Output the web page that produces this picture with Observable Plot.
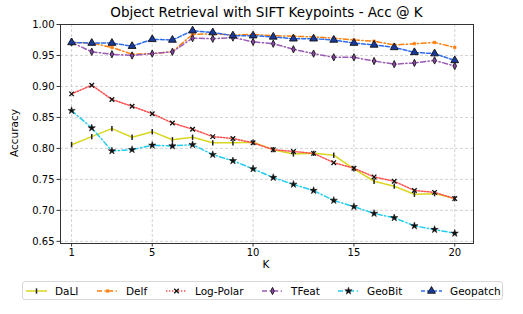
<!DOCTYPE html>
<html><head><meta charset="utf-8">
<script src="https://cdn.jsdelivr.net/npm/d3@7"></script>
<script src="https://cdn.jsdelivr.net/npm/@observablehq/plot@0.6"></script>
<style>
body{margin:0;background:#fff;font-family:"DejaVu Sans",sans-serif;}
#wrap{position:relative;width:523px;height:314px;overflow:hidden;}
#wrap svg.plot{position:absolute;left:0;top:0;}
.title{position:absolute;top:4px;left:60px;width:413px;text-align:center;font-size:13.5px;color:#000;}
.ylab{position:absolute;left:14px;top:133px;transform:translate(-50%,-50%) rotate(-90deg);font-size:10.5px;white-space:nowrap;}
.xlab{position:absolute;left:266px;top:264px;transform:translate(-50%,-50%);font-size:10.5px;}
.legend{position:absolute;left:22px;top:281px;width:479px;height:17px;border:1px solid #d8d8d8;border-radius:3px;background:#fff;}
.item{position:absolute;top:0;height:17px;display:flex;align-items:center;font-size:10.5px;white-space:nowrap;}
.item svg{margin-right:8px;}
</style></head><body><div id="wrap"></div>
<script>
const K = [1,2,3,4,5,6,7,8,9,10,11,12,13,14,15,16,17,18,19,20];
const seriesNames = ["DaLI","Delf","Log-Polar","TFeat","GeoBit","Geopatch"];
const dali     = [0.806,0.819,0.832,0.818,0.827,0.814,0.818,0.809,0.809,0.810,0.798,0.791,0.792,0.789,0.767,0.747,0.739,0.726,0.727,0.719];
const delf     = [0.971,0.970,0.963,0.952,0.953,0.956,0.984,0.985,0.983,0.984,0.982,0.981,0.980,0.978,0.975,0.973,0.967,0.969,0.971,0.963];
const logPolar = [0.888,0.902,0.879,0.868,0.856,0.841,0.831,0.819,0.816,0.809,0.798,0.795,0.792,0.777,0.768,0.754,0.747,0.732,0.729,0.719];
const tfeat    = [0.971,0.956,0.952,0.950,0.953,0.956,0.978,0.977,0.979,0.972,0.969,0.960,0.953,0.947,0.947,0.941,0.936,0.938,0.942,0.933];
const geobit   = [0.861,0.833,0.796,0.798,0.805,0.804,0.806,0.790,0.780,0.767,0.753,0.742,0.732,0.716,0.706,0.695,0.688,0.675,0.669,0.663];
const geopatch = [0.971,0.970,0.970,0.965,0.976,0.975,0.990,0.987,0.982,0.982,0.980,0.977,0.977,0.975,0.970,0.967,0.963,0.955,0.953,0.942];
const xTicks = [1,5,10,15,20];
const yTicks = [0.65,0.70,0.75,0.80,0.85,0.90,0.95,1.00];
const titleText = "Object Retrieval with SIFT Keypoints - Acc @ K";
const xLabel = "K", yLabel = "Accuracy";

// custom symbols
const vline = {draw(ctx, size){ const h = Math.sqrt(size)*1.0; ctx.moveTo(0,-h/2); ctx.lineTo(0,h/2); }};
const thinDiamond = {draw(ctx, size){ const r = Math.sqrt(size)/2; ctx.moveTo(0,-r*1.25); ctx.lineTo(r*0.6,0); ctx.lineTo(0,r*1.25); ctx.lineTo(-r*0.6,0); ctx.closePath(); }};
const square = {draw(ctx, size){ const r = Math.sqrt(size)/2; ctx.rect(-r,-r,2*r,2*r); }};

const styles = {
  "DaLI":      {values: dali,     color:"#d9d61f", dash:null,        symbol:vline,         r:3.0, fill:"none",    mstroke:"#222", msw:1.5},
  "Delf":      {values: delf,     color:"#ff7f0e", dash:"5,2.5,1.2,2.5", symbol:square,    r:1.5, fill:"#ff7f0e", mstroke:"#ff7f0e", msw:0.5},
  "Log-Polar": {values: logPolar, color:"#ff4d4d", dash:"1.4,1.6",   symbol:d3.symbolTimes,r:2.2, fill:"none",    mstroke:"#111", msw:1.3},
  "TFeat":     {values: tfeat,    color:"#9b59b6", dash:"5,2.5,1.2,2.5", symbol:thinDiamond, r:3.3, fill:"#8e44ad", mstroke:"#222", msw:1},
  "GeoBit":    {values: geobit,   color:"#22ccf0", dash:"5,2.5,1.2,2.5", symbol:d3.symbolStar, r:2.3, fill:"#111", mstroke:"#111", msw:0.5},
  "Geopatch":  {values: geopatch, color:"#2d6cf0", dash:"4,2",       symbol:d3.symbolTriangle, r:2.9, fill:"#1a3a9a", mstroke:"#111", msw:0.9}
};

const marks = [
  Plot.gridX(xTicks, {stroke:"#c8c8c8", strokeOpacity:1, strokeDasharray:"3,2", strokeWidth:0.8}),
  Plot.gridY(yTicks, {stroke:"#c8c8c8", strokeOpacity:1, strokeDasharray:"3,2", strokeWidth:0.8})
];
for (const name of seriesNames) {
  const s = styles[name];
  const rows = K.map((k,i) => ({k, v: s.values[i]}));
  marks.push(Plot.line(rows, {x:"k", y:"v", stroke:s.color, strokeWidth:1.5, strokeDasharray:s.dash}));
  marks.push(Plot.dot(rows, {x:"k", y:"v", symbol:()=>s.symbol, r:s.r, fill:s.fill, stroke:s.mstroke, strokeWidth:s.msw}));
}
marks.push(Plot.frame({stroke:"#333", strokeWidth:1}));
marks.push(Plot.axisX(xTicks, {tickSize:3.5, tickPadding:2, label:null, fontSize:10, stroke:"#333"}));
marks.push(Plot.axisY(yTicks, {tickSize:3.5, tickPadding:2.5, label:null, tickFormat:d3.format(".2f"), fontSize:10, stroke:"#333"}));

const chart = Plot.plot({
  width:523, height:314,
  marginLeft:60, marginRight:50, marginTop:24, marginBottom:71,
  x:{domain:[0.45,20.93]},
  y:{domain:[0.6465,1.0]},
  symbol:{type:"identity"},
  style:{fontFamily:"DejaVu Sans, sans-serif", fontSize:"10px", color:"#000", background:"#fff"},
  marks
});
chart.classList.add("plot");
const wrap = document.getElementById("wrap");
wrap.appendChild(chart);

function addDiv(cls, text){ const d = document.createElement("div"); d.className = cls; d.textContent = text; wrap.appendChild(d); return d; }
addDiv("title", titleText);
addDiv("ylab", yLabel);
addDiv("xlab", xLabel);

// legend
const legend = document.createElement("div"); legend.className = "legend"; wrap.appendChild(legend);
const legendX = [3, 74, 143, 239, 315, 398];
seriesNames.forEach((name, i) => {
  const s = styles[name];
  const item = document.createElement("div"); item.className = "item"; item.style.left = legendX[i] + "px";
  const svg = d3.create("svg").attr("width", 21).attr("height", 12);
  svg.append("line").attr("x1",0).attr("x2",21).attr("y1",6).attr("y2",6)
     .attr("stroke", s.color).attr("stroke-width",1.5).attr("stroke-dasharray", s.dash);
  svg.append("path").attr("transform","translate(10.5,6)")
     .attr("d", d3.symbol(s.symbol, s.r*s.r*Math.PI)())
     .attr("fill", s.fill).attr("stroke", s.mstroke).attr("stroke-width", s.msw);
  item.appendChild(svg.node());
  const t = document.createElement("span"); t.textContent = name; item.appendChild(t);
  legend.appendChild(item);
});
</script></body></html>
